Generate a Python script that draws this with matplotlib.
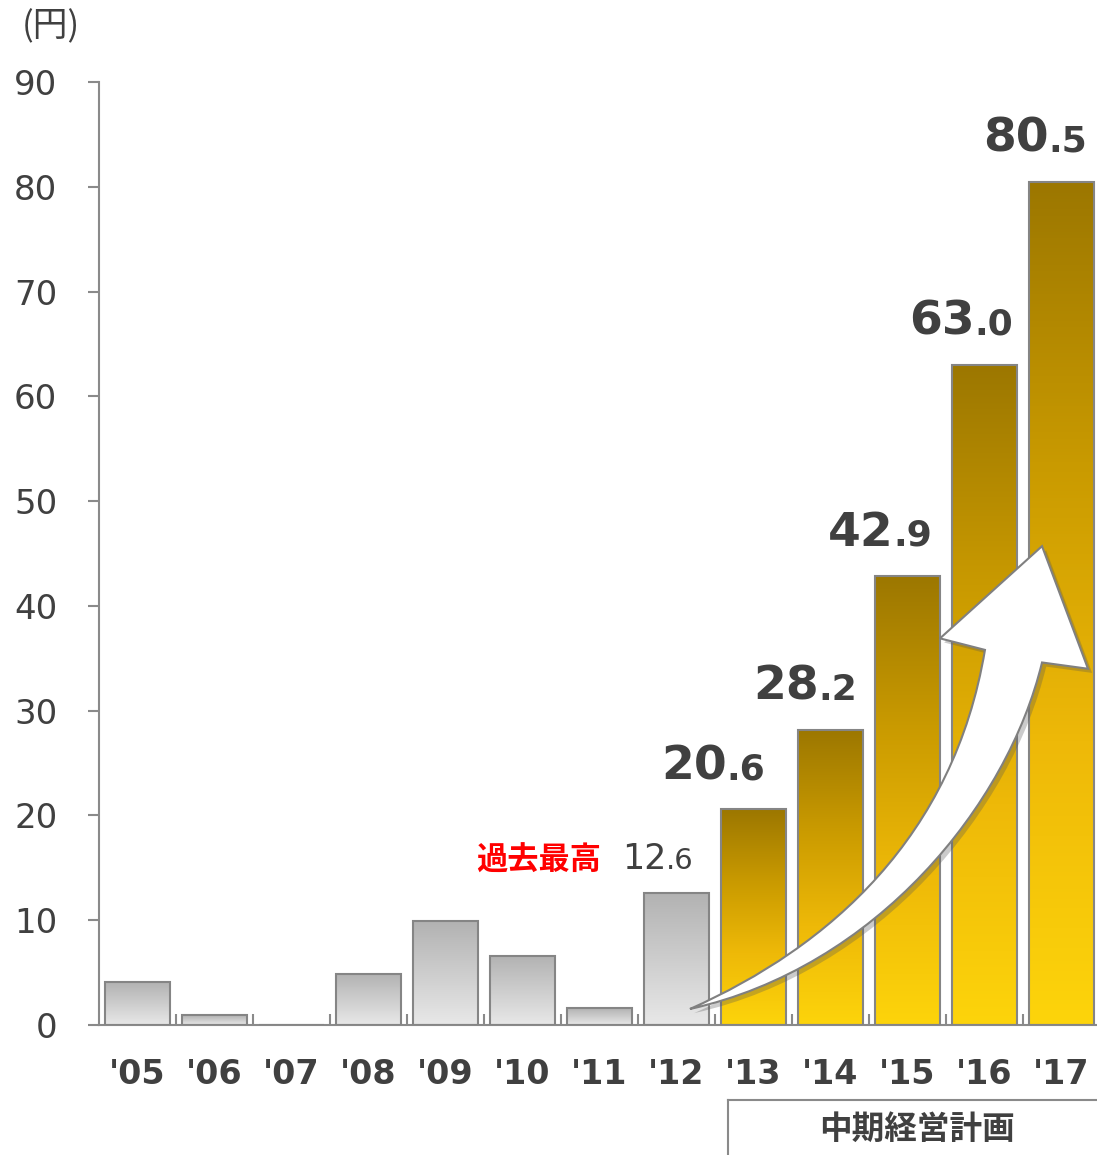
"""Dividend per share bar chart ('05-'17) with the mid-term plan highlighted."""

import matplotlib

matplotlib.use("Agg")
import matplotlib.patheffects as pe
import matplotlib.pyplot as plt
import numpy as np
from matplotlib.colors import LinearSegmentedColormap
from matplotlib.patches import PathPatch
from matplotlib.path import Path

W, H, DPI = 1097, 1155, 100

years = ["'05", "'06", "'07", "'08", "'09", "'10", "'11", "'12",
         "'13", "'14", "'15", "'16", "'17"]
dividends = [4.1, 0.95, 0.0, 4.9, 9.9, 6.6, 1.6, 12.6,
             20.6, 28.2, 42.9, 63.0, 80.5]
record_idx = 7     # '12: highest dividend before the plan
plan_start = 8     # '13: first year of the mid-term plan

unit_label = "(円)"
record_label = "過去最高"
plan_label = "中期経営計画"

TXT = "#404040"
AXC = "#8a8a8a"
CJK = ["Noto Sans CJK JP", "DejaVu Sans"]
BW = 65 / 77
# horizontal nudge (px) of the split point of each plan-year label
label_dx = [-27, -12, -14, -10, -13]

gray_cmap = LinearSegmentedColormap.from_list("g", ["#e8e8e8", "#b2b2b2"])
gold_cmap = LinearSegmentedColormap.from_list(
    "y", ["#fdd40b", "#eeb908", "#c99a00", "#9c7700"])

fig = plt.figure(figsize=(W / DPI, H / DPI), dpi=DPI)
ax = fig.add_axes([99 / W, (H - 1025) / H, (W - 99) / W, (1025 - 82) / H])

grad = np.linspace(0, 1, 256).reshape(-1, 1)
for i, v in enumerate(dividends):
    if v <= 0:
        continue
    cmap = gold_cmap if i >= plan_start else gray_cmap
    ax.imshow(grad, extent=(i - BW / 2, i + BW / 2, 0, v), origin="lower",
              cmap=cmap, aspect="auto", zorder=2, interpolation="bilinear")
ax.bar(range(len(years)), dividends, width=BW, facecolor="none",
       edgecolor="#858585", linewidth=1.5, zorder=3)

ax.set_xlim(-0.5, -0.5 + (W - 99) / 77)
ax.set_ylim(0, 90)

for s in ("top", "right"):
    ax.spines[s].set_visible(False)
for s in ("left", "bottom"):
    ax.spines[s].set_color(AXC)
    ax.spines[s].set_linewidth(1.5)

ax.set_yticks(range(0, 91, 10))
ax.tick_params(axis="y", direction="out", length=8, width=1.5, color=AXC,
               labelsize=24.5, labelcolor=TXT, pad=22)
ax.set_xticks(range(len(years)))
ax.set_xticklabels(years, fontsize=24, fontweight="bold", color=TXT)
ax.tick_params(axis="x", which="major", length=0, pad=24)
ax.set_xticks(np.arange(0.5, len(years) - 0.5, 1), minor=True)
ax.tick_params(axis="x", which="minor", direction="in", length=8, width=1.5,
               color=AXC)

# value labels: large integer part, smaller decimal part
for k, i in enumerate(range(plan_start, len(years))):
    whole, dec = f"{dividends[i]:.1f}".split(".")
    dx = label_dx[k] * 0.72
    ax.annotate(whole, xy=(i, dividends[i]), xytext=(dx, 21.6),
                textcoords="offset points", ha="right", va="baseline",
                fontsize=34, fontweight="bold", color=TXT)
    ax.annotate("." + dec, xy=(i, dividends[i]), xytext=(dx, 21.6),
                textcoords="offset points", ha="left", va="baseline",
                fontsize=26, fontweight="bold", color=TXT)

whole, dec = f"{dividends[record_idx]:.1f}".split(".")
ax.annotate(whole, xy=(record_idx, dividends[record_idx]), xytext=(-7.5, 17),
            textcoords="offset points", ha="right", va="baseline",
            fontsize=25, color=TXT)
ax.annotate("." + dec, xy=(record_idx, dividends[record_idx]),
            xytext=(-7.5, 17), textcoords="offset points", ha="left",
            va="baseline", fontsize=21, color=TXT)
ax.annotate(record_label, xy=(record_idx, dividends[record_idx]),
            xytext=(-54, 23), textcoords="offset points", ha="right",
            va="center", fontsize=22.5, fontweight="bold", color="#ff0000",
            family=CJK)

# curved growth arrow (data coordinates)
verts = [
    (7.175, 1.53), (9.0, 7.5), (10.6, 18.0), (11.006, 35.8),
    (10.422, 36.9), (11.747, 45.7), (12.344, 34.0), (11.747, 34.6),
    (11.3, 21.0), (9.6, 5.5), (7.175, 1.53), (7.175, 1.53),
]
codes = [Path.MOVETO, Path.CURVE4, Path.CURVE4, Path.CURVE4,
         Path.LINETO, Path.LINETO, Path.LINETO, Path.LINETO,
         Path.CURVE4, Path.CURVE4, Path.CURVE4, Path.CLOSEPOLY]
arrow = PathPatch(Path(verts, codes), facecolor="white", edgecolor="#808080",
                  linewidth=1.5, zorder=5, clip_on=False)
arrow.set_path_effects([pe.withSimplePatchShadow(offset=(3, -3),
                                                 shadow_rgbFace="#555555",
                                                 alpha=0.3)])
ax.add_patch(arrow)

# unit label and mid-term plan bracket
fig.text(22 / W, 1 - 27 / H, unit_label, fontsize=25, color=TXT,
         family=CJK, ha="left", va="center")
fig.add_artist(plt.Line2D([728 / W, 1], [1 - 1100 / H] * 2, color=AXC,
                          linewidth=1.5))
fig.add_artist(plt.Line2D([728 / W] * 2, [1 - 1100 / H, 0], color=AXC,
                          linewidth=1.5))
fig.text(917 / W, 1 - 1129 / H, plan_label, fontsize=23.5, fontweight="bold",
         color=TXT, family=CJK, ha="center", va="center")

fig.savefig("out.png", dpi=DPI)
